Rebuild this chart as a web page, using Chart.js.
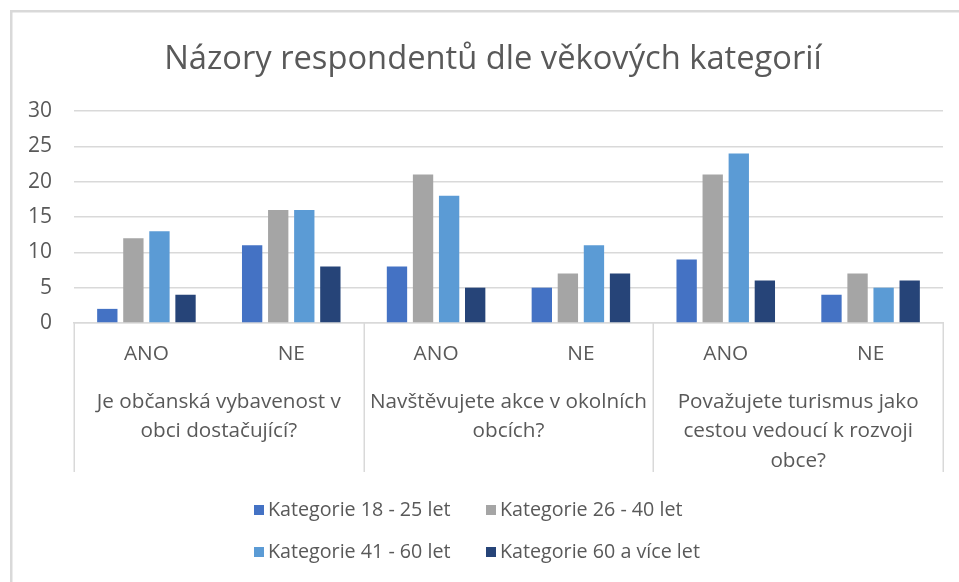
<!DOCTYPE html>
<html><head><meta charset="utf-8">
<script src="https://cdn.jsdelivr.net/npm/chart.js"></script>
<style>html,body{margin:0;padding:0;background:#fff;} #wrap{position:relative;width:959px;height:582px;overflow:hidden;}</style>
</head><body><div id="wrap"><canvas id="c" width="959" height="582"></canvas></div>
<script>
const titleText = 'Názory respondentů dle věkových kategorií';
const answers = ['ANO', 'NE', 'ANO', 'NE', 'ANO', 'NE'];
const questions = [
  ['Je občanská vybavenost v', 'obci dostačující?'],
  ['Navštěvujete akce v okolních', 'obcích?'],
  ['Považujete turismus jako', 'cestou vedoucí k rozvoji', 'obce?']
];
const seriesNames = ['Kategorie 18 - 25 let', 'Kategorie 26 - 40 let', 'Kategorie 41 - 60 let', 'Kategorie 60 a více let'];
const age18_25 = [2, 11, 8, 5, 9, 4];
const age26_40 = [12, 16, 21, 7, 21, 7];
const age41_60 = [13, 16, 18, 11, 24, 5];
const age60plus = [4, 8, 5, 7, 6, 6];
const yTicks = [0, 5, 10, 15, 20, 25, 30];
const colors = ['#4472C4', '#A5A5A5', '#5B9BD5', '#264478'];

const FONT = '"Open Sans"';
const TXT = '#595959';
const GRID = '#d9d9d9';

const framePlugin = {
  id: 'frame',
  beforeDraw(chart) {
    const ctx = chart.ctx;
    ctx.save();
    ctx.fillStyle = '#fff';
    ctx.fillRect(0, 0, chart.width, chart.height);
    ctx.strokeStyle = GRID;
    ctx.lineWidth = 2.5;
    ctx.strokeRect(11.25, 11.25, 1200, 1000);
    ctx.restore();
  },
  afterDraw(chart) {
    const ctx = chart.ctx;
    const a = chart.chartArea;
    ctx.save();
    // title
    ctx.fillStyle = TXT;
    ctx.font = '32.7px ' + FONT;
    ctx.textAlign = 'center';
    ctx.textBaseline = 'alphabetic';
    ctx.fillText(titleText, 493, 69);
    // category separators
    ctx.strokeStyle = GRID;
    ctx.lineWidth = 1.5;
    const n = questions.length;
    const w = (a.right - a.left) / n;
    for (let k = 0; k <= n; k++) {
      const x = Math.round(a.left + k * w) + 0.25;
      ctx.beginPath();
      ctx.moveTo(x, a.bottom);
      ctx.lineTo(x, 472);
      ctx.stroke();
    }
    // legend 2x2
    ctx.font = '19.7px ' + FONT;
    ctx.textAlign = 'left';
    ctx.textBaseline = 'middle';
    const colX = [254, 486];
    const rowY = [510, 552];
    chart.data.datasets.forEach((ds, i) => {
      const x = colX[i % 2], y = rowY[Math.floor(i / 2)];
      ctx.fillStyle = ds.backgroundColor;
      ctx.fillRect(x, y - 5, 10, 10);
      ctx.fillStyle = TXT;
      ctx.fillText(ds.label, x + 14, y);
    });
    ctx.restore();
  }
};

const datasets = [age18_25, age26_40, age41_60, age60plus].map((d, i) => ({
  label: seriesNames[i],
  data: d,
  backgroundColor: colors[i],
  borderWidth: 0,
  categoryPercentage: 0.72,
  barPercentage: 0.78,
  xAxisID: 'x',
  yAxisID: 'y'
}));

new Chart(document.getElementById('c'), {
  type: 'bar',
  data: { labels: answers, datasets },
  options: {
    responsive: false,
    devicePixelRatio: 1,
    animation: false,
    layout: { padding: { left: 12, right: 16, top: 111, bottom: 101 } },
    plugins: { legend: { display: false }, title: { display: false }, tooltip: { enabled: false } },
    scales: {
      y: {
        min: 0, max: 30,
        afterBuildTicks: s => { s.ticks = yTicks.map(v => ({ value: v })); },
        afterFit: s => { s.width = 62; },
        border: { display: false },
        grid: { color: GRID, lineWidth: 1.5, drawTicks: false },
        ticks: { color: TXT, font: { family: FONT, size: 21 }, padding: 22 }
      },
      x: {
        weight: 0,
        afterFit: s => { s.height = 58; },
        border: { display: true, color: GRID, width: 1.5 },
        grid: { display: false, drawTicks: false },
        ticks: { color: TXT, font: { family: FONT, size: 20.8 }, padding: 18.5, maxRotation: 0, autoSkip: false }
      },
      x2: {
        type: 'category',
        labels: questions,
        position: 'bottom',
        offset: true,
        weight: 1,
        afterFit: s => { s.height = 100; },
        border: { display: false },
        grid: { display: false, drawTicks: false },
        ticks: { color: TXT, font: { family: FONT, size: 20.7, lineHeight: 1.425 }, padding: 6, maxRotation: 0, autoSkip: false }
      }
    }
  },
  plugins: [framePlugin]
});
</script>
</body></html>
